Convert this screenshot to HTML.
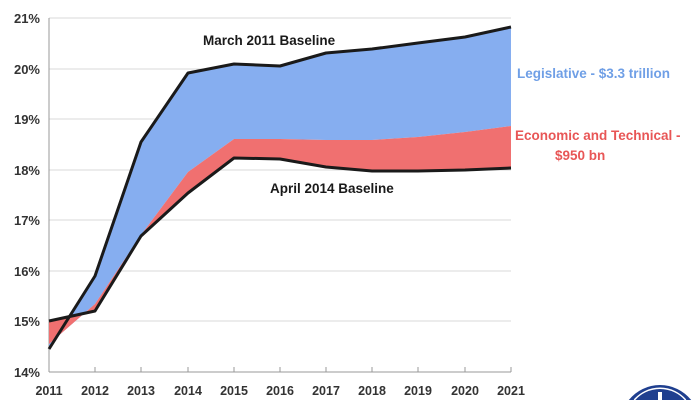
<!DOCTYPE html><html><head><style>html,body{margin:0;background:#fff;width:700px;height:400px;overflow:hidden}svg{display:block;font-family:"Liberation Sans",sans-serif;font-weight:bold}</style></head><body>
<svg width="700" height="400" viewBox="0 0 700 400">
<g stroke="#d9d9d9" stroke-width="1">
<line x1="49" x2="511" y1="18" y2="18"/><line x1="49" x2="511" y1="69" y2="69"/><line x1="49" x2="511" y1="119" y2="119"/><line x1="49" x2="511" y1="170" y2="170"/><line x1="49" x2="511" y1="220" y2="220"/><line x1="49" x2="511" y1="271" y2="271"/><line x1="49" x2="511" y1="321" y2="321"/>
</g>
<g stroke="#999" stroke-width="1"><line x1="49" x2="49" y1="18" y2="372"/><line x1="49" x2="511" y1="372" y2="372"/>
<path d="M95 372v-5M141 372v-5M188 372v-5M234 372v-5M280 372v-5M326 372v-5M372 372v-5M418 372v-5M465 372v-5M511 372v-5"/></g>
<polygon fill="#86aef0" points="49,349 95,276 141,142 188,73 234,64 280,66 326,53 372,49 418,43 465,37 511,27 511,126 465,132 418,137 372,140 326,140 280,139 234,139 188,172 141,235 95,304 49,344"/>
<polygon fill="#f07070" points="49,344 95,304 141,235 188,172 234,139 280,139 326,140 372,140 418,137 465,132 511,126 511,168 465,170 418,171 372,171 326,167 280,159 234,158 188,193 141,236 95,311 49,321"/>
<g fill="none" stroke="#1a1a1a" stroke-width="3" stroke-linejoin="round">
<polyline points="49,349 95,276 141,142 188,73 234,64 280,66 326,53 372,49 418,43 465,37 511,27"/>
<polyline points="49,321 95,311 141,236 188,193 234,158 280,159 326,167 372,171 418,171 465,170 511,168"/>
</g>
<g font-size="13" fill="#333">
<text x="40" y="23" text-anchor="end">21%</text><text x="40" y="74" text-anchor="end">20%</text><text x="40" y="124" text-anchor="end">19%</text><text x="40" y="175" text-anchor="end">18%</text><text x="40" y="225" text-anchor="end">17%</text><text x="40" y="276" text-anchor="end">16%</text><text x="40" y="326" text-anchor="end">15%</text><text x="40" y="377" text-anchor="end">14%</text>
<g text-anchor="middle" font-size="12.5"><text x="49" y="395">2011</text><text x="95" y="395">2012</text><text x="141" y="395">2013</text><text x="188" y="395">2014</text><text x="234" y="395">2015</text><text x="280" y="395">2016</text><text x="326" y="395">2017</text><text x="372" y="395">2018</text><text x="418" y="395">2019</text><text x="465" y="395">2020</text><text x="511" y="395">2021</text></g>
</g>
<text x="203" y="45" font-size="13.5" fill="#1a1a1a">March 2011 Baseline</text>
<text x="270" y="193" font-size="13.5" fill="#1a1a1a">April 2014 Baseline</text>
<text x="517" y="78" font-size="13.5" fill="#6f9fe6">Legislative - $3.3 trillion</text>
<text x="515" y="140" font-size="13.5" fill="#e85656">Economic and Technical -</text>
<text x="555" y="160" font-size="13.5" fill="#e85656">$950 bn</text>
<path d="M628.8,400 A40,40 0 0 1 691.2,400 Z" fill="#1f3f8f"/>
<path d="M634.3,400 A34,34 0 0 1 685.7,400" fill="none" stroke="#fff" stroke-width="1.5"/>
<path d="M658 392h4v8h-4z" fill="#fff"/>
</svg></body></html>
